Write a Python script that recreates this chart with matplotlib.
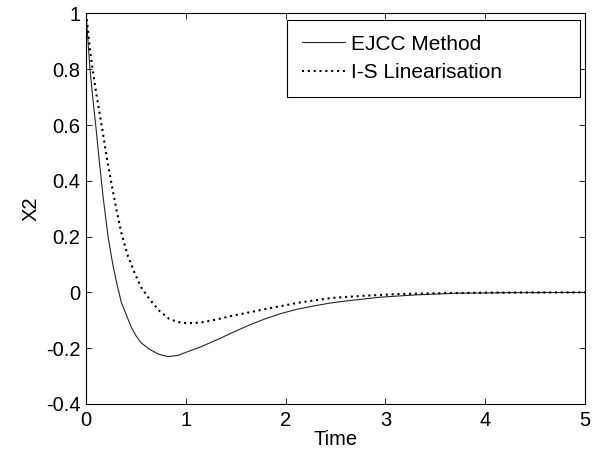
#!/usr/bin/env python3
import matplotlib
matplotlib.use('Agg')
import matplotlib.pyplot as plt

# EJCC Method (solid)
ejcc_t = [0, 0.02, 0.04, 0.07, 0.10, 0.132, 0.172, 0.221, 0.271, 0.31, 0.354,
          0.454, 0.5, 0.55, 0.636, 0.73, 0.82, 0.92, 1.0, 1.15, 1.33, 1.48,
          1.63, 1.8, 1.96, 2.12, 2.29, 2.45, 2.62, 2.95, 3.3, 3.7, 4.2, 5.0]
ejcc_x2 = [1.0, 0.90, 0.80, 0.69, 0.59, 0.475, 0.34, 0.20, 0.095, 0.03, -0.036,
           -0.125, -0.155, -0.18, -0.204, -0.222, -0.23, -0.226, -0.215, -0.195,
           -0.167, -0.142, -0.118, -0.094, -0.075, -0.060, -0.048, -0.038,
           -0.030, -0.017, -0.009, -0.003, -0.001, 0.0]

# I-S Linearisation (dotted)
is_t = [0, 0.02, 0.04, 0.066, 0.10, 0.165, 0.215, 0.255, 0.305, 0.354, 0.42,
        0.487, 0.553, 0.636, 0.735, 0.834, 0.92, 1.0, 1.08, 1.165, 1.298, 1.463,
        1.795, 2.125, 2.456, 2.787, 3.118, 3.5, 4.0, 4.5, 5.0]
is_x2 = [1.0, 0.94, 0.87, 0.80, 0.72, 0.58, 0.469, 0.39, 0.297, 0.214, 0.13,
         0.07, 0.018, -0.024, -0.066, -0.095, -0.106, -0.11, -0.11, -0.107,
         -0.098, -0.084, -0.06, -0.037, -0.02, -0.012, -0.006, -0.003, -0.001,
         0.0, 0.0]

x_ticks = [0, 1, 2, 3, 4, 5]
y_ticks = [-0.4, -0.2, 0, 0.2, 0.4, 0.6, 0.8, 1]
y_tick_labels = ['-0.4', '-0.2', '0', '0.2', '0.4', '0.6', '0.8', '1']

plt.rcParams['font.family'] = ['Liberation Sans', 'DejaVu Sans']

fig = plt.figure(figsize=(6.04, 4.53), dpi=100)
ax = fig.add_axes([0.1424, 0.1082, 0.826, 0.862])

ax.plot(ejcc_t, ejcc_x2, '-', color='0.15', lw=0.8, label='EJCC Method')
ax.plot(is_t, is_x2, color='black', lw=1.5, linestyle=(0, (1, 1.8)),
        label='I-S Linearisation')

ax.set_xlim(0, 5)
ax.set_ylim(-0.4, 1)
ax.set_xticks(x_ticks)
ax.set_yticks(y_ticks)
ax.set_yticklabels(y_tick_labels)
ax.tick_params(direction='in', length=4, width=0.6, top=True, right=True,
               labelsize=14.5)
ax.tick_params(axis='x', pad=5)
ax.tick_params(axis='y', pad=4)
for s in ax.spines.values():
    s.set_linewidth(0.8)

ax.set_xlabel('Time', fontsize=14.5, labelpad=0)
ax.set_ylabel('X2', fontsize=14.5, labelpad=4)

leg = ax.legend(loc='upper left', bbox_to_anchor=(0.403, 0.78, 0.587, 0.203),
                mode='expand', borderaxespad=0, fontsize=15, handlelength=2.1,
                handletextpad=0.25, labelspacing=0.45, borderpad=0.7,
                fancybox=False, framealpha=1)
leg.get_frame().set_edgecolor('black')
leg.get_frame().set_linewidth(0.8)

fig.savefig('out.png', dpi=100)
